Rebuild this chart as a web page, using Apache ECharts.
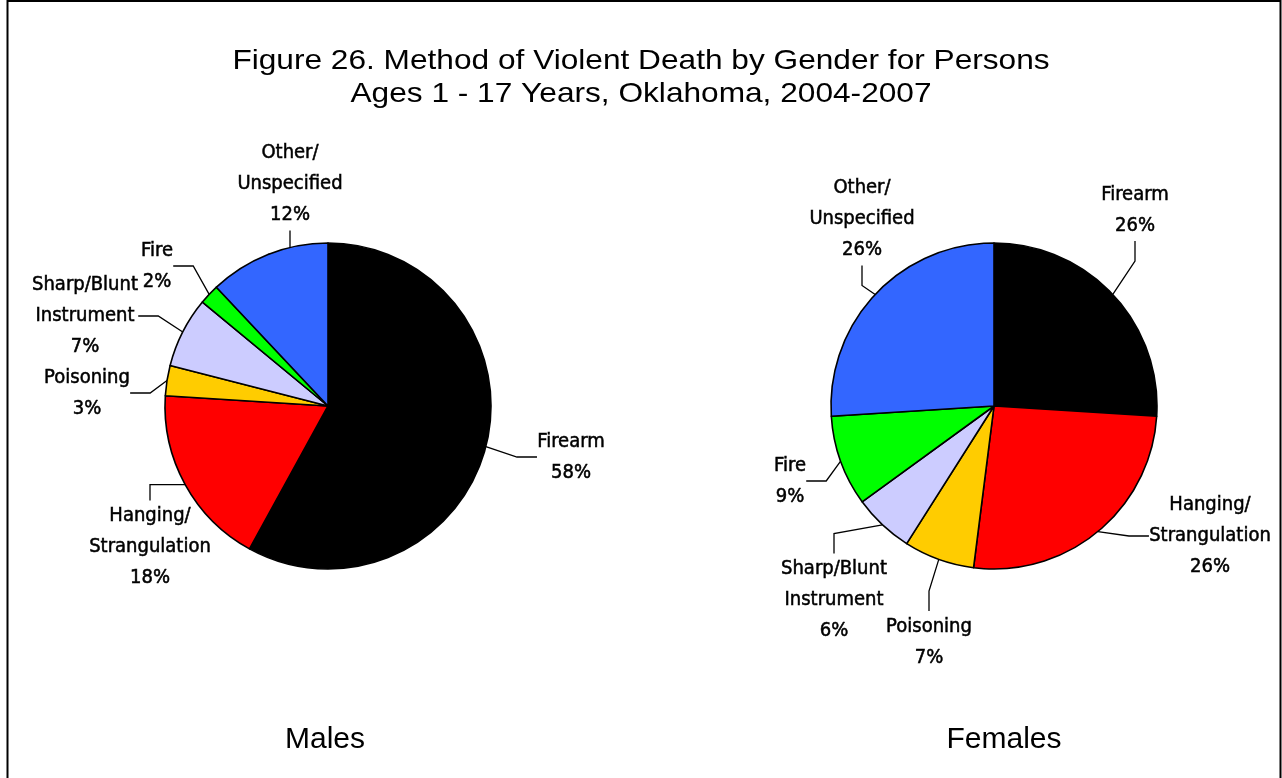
<!DOCTYPE html>
<html>
<head>
<meta charset="utf-8">
<script src="https://cdn.jsdelivr.net/npm/echarts@6/dist/echarts.min.js"></script>
<style>
html,body{margin:0;padding:0;background:#fff;}
#chart{width:1282px;height:778px;}
</style>
</head>
<body>
<div id="chart"></div>
<script>
// ---- data ----
const categories = ['Firearm', 'Hanging/\nStrangulation', 'Poisoning', 'Sharp/Blunt\nInstrument', 'Fire', 'Other/\nUnspecified'];
const malesValues = [58, 18, 3, 7, 2, 12];
const femalesValues = [26, 26, 7, 6, 9, 26];
const sliceColors = ['#000000', '#FF0000', '#FFCC00', '#CCCCFF', '#00FF00', '#3366FF'];
const titleLines = ['Figure 26. Method of Violent Death by Gender for Persons', 'Ages 1 - 17 Years, Oklahoma, 2004-2007'];
const groupNames = ['Males', 'Females'];

// ---- label placement (layout, not data) ----
const malesLabelPos = [[571, 457], [150, 547], [87, 393], [85, 316], [157, 266], [290, 184]];
const femalesLabelPos = [[1135, 210], [1210, 536], [929, 642], [834, 600], [790, 481], [862, 219]];

const chart = echarts.init(document.getElementById('chart'), null, {renderer: 'canvas'});
const labelFont = '"Liberation Sans Narrow", "DejaVu Sans Condensed", "Arial Narrow", sans-serif';
const mainFont = '"Liberation Sans", Arial, sans-serif';

function makeSeries(name, values, center, posList) {
  return {
    type: 'pie',
    name: name,
    center: center,
    radius: 163,
    startAngle: 90,
    clockwise: true,
    animation: false,
    silent: true,
    data: categories.map((c, i) => ({name: c, value: values[i], itemStyle: {color: sliceColors[i]}})),
    itemStyle: {borderColor: '#000', borderWidth: 1.6},
    label: {
      show: true,
      position: 'outside',
      formatter: p => p.name + '\n' + p.value + '%',
      color: '#000',
      fontFamily: labelFont,
      fontSize: 20,
      lineHeight: 31,
      textBorderColor: '#000',
      textBorderWidth: 0.5,
      align: 'center'
    },
    labelLine: {show: true, length: 12, length2: 20, lineStyle: {color: '#000', width: 1.3}},
    labelLayout: function (params) {
      const p = posList[params.dataIndex];
      return {x: p[0], y: p[1], align: 'center', verticalAlign: 'middle'};
    }
  };
}

const option = {
  backgroundColor: '#fff',
  graphic: [
    {type: 'rect', shape: {x: 7.5, y: 1, width: 1273, height: 790}, style: {fill: 'none', stroke: '#000', lineWidth: 2}, silent: true},
    {type: 'text', x: 641, y: 61, scaleX: 1.13, style: {text: titleLines[0], fontFamily: mainFont, fontSize: 28, fill: '#000', align: 'center', verticalAlign: 'middle'}},
    {type: 'text', x: 641, y: 94, scaleX: 1.13, style: {text: titleLines[1], fontFamily: mainFont, fontSize: 28, fill: '#000', align: 'center', verticalAlign: 'middle'}},
    {type: 'text', x: 325, y: 740, style: {text: groupNames[0], fontFamily: mainFont, fontSize: 30, fill: '#000', align: 'center', verticalAlign: 'middle'}},
    {type: 'text', x: 1004, y: 740, style: {text: groupNames[1], fontFamily: mainFont, fontSize: 30, fill: '#000', align: 'center', verticalAlign: 'middle'}}
  ],
  series: [
    makeSeries(groupNames[0], malesValues, [328, 406], malesLabelPos),
    makeSeries(groupNames[1], femalesValues, [994, 406], femalesLabelPos)
  ]
};
chart.setOption(option);
</script>
</body>
</html>
